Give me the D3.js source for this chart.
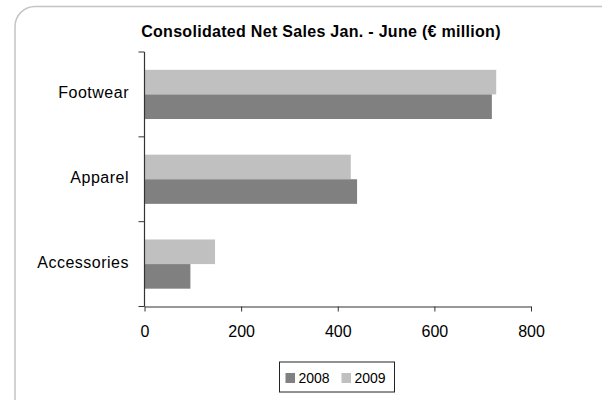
<!DOCTYPE html>
<html>
<head>
<meta charset="utf-8">
<script src="https://cdn.jsdelivr.net/npm/d3@7"></script>
<style>
  html, body { margin: 0; padding: 0; background: #fff; }
  svg { display: block; }
  text { font-family: "Liberation Sans", Arial, sans-serif; fill: #000; }
</style>
</head>
<body>
<div id="chart"></div>
<script>
// Consolidated net sales by segment, first half of the year (€ million)
const categories = ["Footwear", "Apparel", "Accessories"];
const seriesNames = ["2008", "2009"];
const sales2008 = [719, 440, 95];
const sales2009 = [728, 427, 146];
const xTicks = [0, 200, 400, 600, 800];
const title = "Consolidated Net Sales Jan. - June (€ million)";

const W = 602, H = 400;
const colors = { "2008": "#808080", "2009": "#c0c0c0" };
const values = { "2008": sales2008, "2009": sales2009 };

const svg = d3.select("#chart").append("svg")
  .attr("width", W).attr("height", H);

// Rounded outer frame (runs past the right and bottom edges)
svg.append("rect")
  .attr("x", 15).attr("y", 6.5)
  .attr("width", 640).attr("height", 440)
  .attr("rx", 20).attr("ry", 20)
  .attr("fill", "#fff")
  .attr("stroke", "#c4c4c4")
  .attr("stroke-width", 1.5);

// Title
svg.append("text")
  .attr("x", 321).attr("y", 37)
  .attr("text-anchor", "middle")
  .style("font-weight", "bold")
  .style("font-size", "16px")
  .style("letter-spacing", "0.3px")
  .text(title);

const plot = { left: 144.5, right: 531, top: 52, bottom: 306.5 };

const x = d3.scaleLinear().domain([0, 800]).range([plot.left, plot.right]);
const y = d3.scaleBand().domain(categories)
  .range([plot.top, plot.bottom])
  .paddingInner(0.42).paddingOuter(0.21);
const ySeries = d3.scaleBand().domain(["2009", "2008"])
  .range([0, y.bandwidth()]);

// Category band boundaries for the y-axis ticks
const yEdges = d3.scaleLinear().domain([0, categories.length])
  .range([plot.top, plot.bottom]);

// Bars
const groups = svg.append("g").selectAll("g")
  .data(categories)
  .join("g")
  .attr("transform", d => `translate(0,${y(d)})`);

groups.selectAll("rect")
  .data((d, i) => ["2009", "2008"].map(s => ({ s, v: values[s][i] })))
  .join("rect")
  .attr("x", x(0))
  .attr("y", d => ySeries(d.s))
  .attr("height", ySeries.bandwidth())
  .attr("width", d => x(d.v) - x(0))
  .attr("fill", d => colors[d.s]);

// X axis
const xAxis = svg.append("g")
  .attr("transform", `translate(0,${plot.bottom})`)
  .call(d3.axisBottom(x).tickValues(xTicks).tickSize(5).tickSizeOuter(0).tickPadding(14));
xAxis.select(".domain").attr("stroke", "#333").attr("stroke-width", 1.2);
xAxis.selectAll(".tick line").attr("stroke", "#333");
xAxis.selectAll(".tick text")
  .style("font-size", "16px")
  .style("font-family", "'Liberation Sans', Arial, sans-serif")
  .attr("fill", "#000");

// Y axis line and band ticks
const yAxisG = svg.append("g");
yAxisG.append("line")
  .attr("x1", plot.left).attr("x2", plot.left)
  .attr("y1", plot.top).attr("y2", plot.bottom)
  .attr("stroke", "#333").attr("stroke-width", 1.2);
yAxisG.selectAll("line.tk")
  .data(d3.range(categories.length + 1))
  .join("line")
  .attr("class", "tk")
  .attr("x1", plot.left - 6).attr("x2", plot.left)
  .attr("y1", d => yEdges(d)).attr("y2", d => yEdges(d))
  .attr("stroke", "#333");

// Category labels
yAxisG.selectAll("text")
  .data(categories)
  .join("text")
  .attr("x", 129)
  .attr("y", d => yEdges(categories.indexOf(d) + 0.5) + 4)
  .attr("text-anchor", "end")
  .style("font-size", "16px")
  .style("letter-spacing", "0.5px")
  .text(d => d);

// Legend
const legend = svg.append("g").attr("transform", "translate(279.5,362)");
legend.append("rect")
  .attr("width", 115).attr("height", 30)
  .attr("fill", "#fff").attr("stroke", "#222").attr("stroke-width", 1);
const items = legend.selectAll("g")
  .data(seriesNames)
  .join("g")
  .attr("transform", (d, i) => `translate(${6 + i * 56},0)`);
items.append("rect")
  .attr("x", 0).attr("y", 11)
  .attr("width", 9.5).attr("height", 10)
  .attr("fill", d => colors[d]);
items.append("text")
  .attr("x", 13).attr("y", 20.5)
  .style("font-size", "14px")
  .text(d => d);
</script>
</body>
</html>
